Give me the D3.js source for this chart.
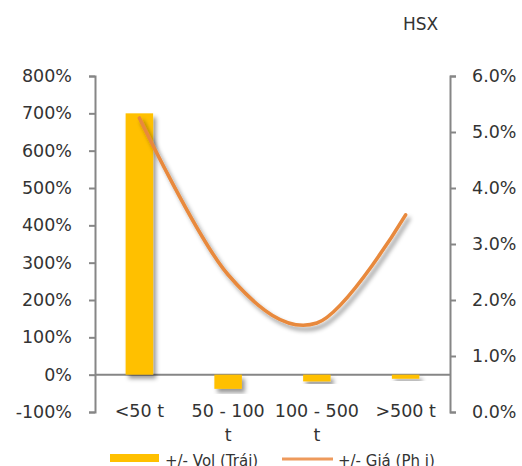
<!DOCTYPE html>
<html>
<head>
<meta charset="utf-8">
<script src="https://cdn.jsdelivr.net/npm/d3@7"></script>
<style>
  html, body { margin: 0; padding: 0; background: #fff; }
  svg { display: block; }
  text { font-family: "DejaVu Sans", Verdana, sans-serif; fill: #333; }
</style>
</head>
<body>
<svg id="chart" width="522" height="466"></svg>
<script>
// chart values (line breaks as the original wraps them)
var categories = ["<50 t", "50 - 100\nt", "100 - 500\nt", ">500 t"];
var volChange = [700, -38, -18, -11];        // +/- Vol (left axis, %)
var priceChange = [5.25, 2.45, 1.59, 3.52];  // +/- Giá (right axis, %)
var leftTicks = [-100, 0, 100, 200, 300, 400, 500, 600, 700, 800];
var rightTicks = [0, 1, 2, 3, 4, 5, 6];
var legendLabels = ["+/- Vol (Trái)", "+/- Giá (Ph i)"];
var title = "HSX";

var svg = d3.select("#chart");
var plotLeft = 95, plotRight = 450, plotTop = 76, plotBottom = 412;
var axisColor = "#868686";

var defs = svg.append("defs");
defs.append("filter").attr("id", "shadow")
    .attr("x", "-30%").attr("y", "-30%").attr("width", "160%").attr("height", "160%")
  .append("feDropShadow")
    .attr("dx", 3).attr("dy", 4).attr("stdDeviation", 2.2)
    .attr("flood-color", "#000").attr("flood-opacity", 0.4);

var x = d3.scaleBand().domain(categories).range([plotLeft, plotRight]);
var yL = d3.scaleLinear().domain([-100, 800]).range([plotBottom, plotTop]);
var yR = d3.scaleLinear().domain([0, 6]).range([plotBottom, plotTop]);

// title
svg.append("text").attr("x", 403).attr("y", 30)
    .style("font-size", "17px").text(title);

// left axis
var gL = svg.append("g").attr("transform", "translate(" + plotLeft + ",0)")
    .call(d3.axisLeft(yL).tickValues(leftTicks).tickSize(6).tickSizeOuter(6)
        .tickPadding(17).tickFormat(function(d) { return d + "%"; }));

// right axis
var gR = svg.append("g").attr("transform", "translate(" + plotRight + ",0)")
    .call(d3.axisRight(yR).tickValues(rightTicks).tickSize(6).tickSizeOuter(6)
        .tickPadding(16).tickFormat(function(d) { return d3.format(".1f")(d) + "%"; }));

[gL, gR].forEach(function(g) {
    g.selectAll("path, line").attr("stroke", axisColor).attr("stroke-width", 2);
    g.selectAll("text").style("font-size", "17.5px").attr("fill", "#333")
        .attr("font-family", null);
});

// zero line
svg.append("line")
    .attr("x1", plotLeft).attr("x2", plotRight)
    .attr("y1", yL(0)).attr("y2", yL(0))
    .attr("stroke", axisColor).attr("stroke-width", 2);

// bars
var barW = x.bandwidth() * 0.31;
svg.append("g").selectAll("rect")
    .data(volChange)
  .enter().append("rect")
    .attr("x", function(d, i) { return x(categories[i]) + x.bandwidth() / 2 - barW / 2; })
    .attr("y", function(d) { return yL(Math.max(0, d)); })
    .attr("width", barW)
    .attr("height", function(d) { return Math.abs(yL(d) - yL(0)); })
    .attr("fill", "#FFC000")
    .attr("filter", "url(#shadow)");

// price line (smoothed)
var line = d3.line()
    .x(function(d, i) { return x(categories[i]) + x.bandwidth() / 2; })
    .y(function(d) { return yR(d); })
    .curve(d3.curveCardinal.tension(0));

svg.append("path")
    .datum(priceChange)
    .attr("d", line)
    .attr("fill", "none")
    .attr("stroke", "#E8893C")
    .attr("stroke-width", 3.6)
    .attr("stroke-linecap", "round")
    .attr("filter", "url(#shadow)");

// category labels
svg.append("g").selectAll("text")
    .data(categories)
  .enter().append("text")
    .attr("text-anchor", "middle")
    .style("font-size", "17.5px")
    .each(function(d) {
        var t = d3.select(this);
        var cx = x(d) + x.bandwidth() / 2;
        d.split("\n").forEach(function(s, k) {
            t.append("tspan").attr("x", cx).attr("y", 417 + k * 24).text(s);
        });
    });

// legend
var lg = svg.append("g");
lg.append("rect").attr("x", 110).attr("y", 454).attr("width", 49).attr("height", 8)
    .attr("fill", "#FFC000");
lg.append("text").attr("x", 165).attr("y", 466).style("font-size", "15px").text(legendLabels[0]);
lg.append("line").attr("x1", 282).attr("x2", 333).attr("y1", 459).attr("y2", 459)
    .attr("stroke", "#EE9A5C").attr("stroke-width", 3);
lg.append("text").attr("x", 338).attr("y", 466).style("font-size", "15px").text(legendLabels[1]);
</script>
</body>
</html>
